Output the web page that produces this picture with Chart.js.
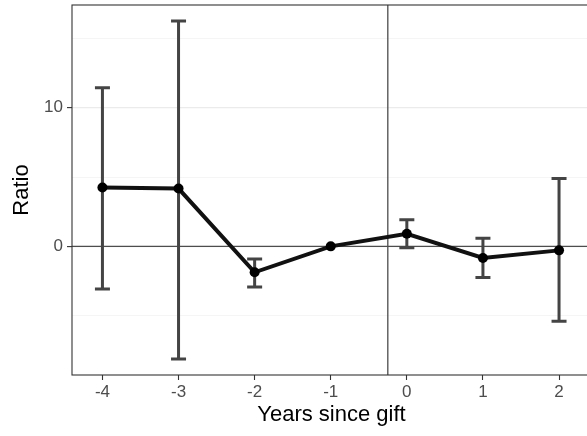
<!DOCTYPE html>
<html>
<head>
<meta charset="utf-8">
<script src="https://cdn.jsdelivr.net/npm/chart.js@4.4.1/dist/chart.umd.min.js"></script>
<style>
  html, body { margin: 0; padding: 0; background: #fff; overflow: hidden; }
  canvas { display: block; }
</style>
</head>
<body>
<canvas id="ratioChart" width="600" height="436"></canvas>
<script>
// Event-study ratio by year relative to gift
const years = [-4, -3, -2, -1, 0, 1, 2];
const ratio = [4.24, 4.17, -1.87, 0, 0.91, -0.84, -0.29];
const lower = [-3.07, -8.13, -2.93, null, -0.1, -2.25, -5.4];
const upper = [11.44, 16.26, -0.91, null, 1.92, 0.58, 4.89];
const yTicks = [0, 10];
const giftLine = -0.25;

const FONT = "'Liberation Sans', Arial, Helvetica, sans-serif";

// error bars, reference lines and panel border
const extras = {
  id: "extras",
  beforeDatasetsDraw(chart) {
    const { ctx, chartArea: a, scales: { x, y } } = chart;
    ctx.save();
    ctx.beginPath();
    ctx.rect(a.left, a.top, a.right - a.left, a.bottom - a.top);
    ctx.clip();
    // reference lines
    ctx.strokeStyle = "#4D4D4D";
    ctx.lineWidth = 1.3;
    const y0 = y.getPixelForValue(0);
    ctx.beginPath();
    ctx.moveTo(a.left, y0);
    ctx.lineTo(a.right, y0);
    const xv = x.getPixelForValue(giftLine);
    ctx.moveTo(xv, a.top);
    ctx.lineTo(xv, a.bottom);
    ctx.stroke();
    // error bars
    ctx.strokeStyle = "#444";
    ctx.lineWidth = 3;
    years.forEach((yr, i) => {
      if (lower[i] == null) return;
      const px = x.getPixelForValue(yr);
      const lo = y.getPixelForValue(lower[i]);
      const hi = y.getPixelForValue(upper[i]);
      ctx.beginPath();
      ctx.moveTo(px, lo);
      ctx.lineTo(px, hi);
      ctx.moveTo(px - 7.5, lo);
      ctx.lineTo(px + 7.5, lo);
      ctx.moveTo(px - 7.5, hi);
      ctx.lineTo(px + 7.5, hi);
      ctx.stroke();
    });
    ctx.restore();
  },
  afterDraw(chart) {
    const { ctx, chartArea: a } = chart;
    ctx.save();
    ctx.strokeStyle = "#333";
    ctx.lineWidth = 1.1;
    ctx.strokeRect(a.left, a.top, a.right - a.left, a.bottom - a.top);
    ctx.restore();
  }
};

new Chart(document.getElementById("ratioChart"), {
  type: "line",
  data: {
    datasets: [{
      data: years.map((yr, i) => ({ x: yr, y: ratio[i] })),
      borderColor: "#111",
      backgroundColor: "#000",
      borderWidth: 4,
      pointRadius: 5,
      pointBorderWidth: 0,
      tension: 0,
    }],
  },
  options: {
    responsive: false,
    animation: false,
    layout: { padding: { top: 4, right: 9 } },
    plugins: { legend: { display: false }, tooltip: { enabled: false } },
    scales: {
      x: {
        type: "linear",
        min: -4.4,
        max: 2.42,
        afterFit(s) { s.height = 61; s.paddingLeft = 0; s.paddingRight = 0; },
        afterBuildTicks(s) { s.ticks = years.map(v => ({ value: v })); },
        grid: { drawOnChartArea: false, tickLength: 5, tickColor: "#333", tickWidth: 1.1 },
        border: { display: false },
        ticks: { color: "#4D4D4D", font: { family: FONT, size: 17 }, padding: 2, maxRotation: 0 },
        title: { display: true, text: "Years since gift", color: "#000", font: { family: FONT, size: 22 }, padding: { top: 8, bottom: 8 } },
      },
      y: {
        min: -9.28,
        max: 17.41,
        afterFit(s) { s.width = 72; s.paddingTop = 0; s.paddingBottom = 0; },
        afterBuildTicks(s) { s.ticks = [-5, 0, 5, 10, 15].map(v => ({ value: v })); },
        grid: {
          color: c => (yTicks.includes(c.tick.value) ? "#EBEBEB" : "#F3F3F3"),
          lineWidth: c => (yTicks.includes(c.tick.value) ? 1.2 : 0.8),
          tickColor: c => (yTicks.includes(c.tick.value) ? "#333" : "rgba(0,0,0,0)"),
          tickLength: 5,
          tickWidth: 1.1,
        },
        border: { display: false },
        ticks: {
          color: "#4D4D4D",
          font: { family: FONT, size: 17 },
          padding: 4,
          callback: v => (yTicks.includes(v) ? String(v) : ""),
        },
        title: { display: true, text: "Ratio", color: "#000", font: { family: FONT, size: 22 }, padding: { top: 9, bottom: 9 } },
      },
    },
  },
  plugins: [extras],
});
</script>
</body>
</html>
